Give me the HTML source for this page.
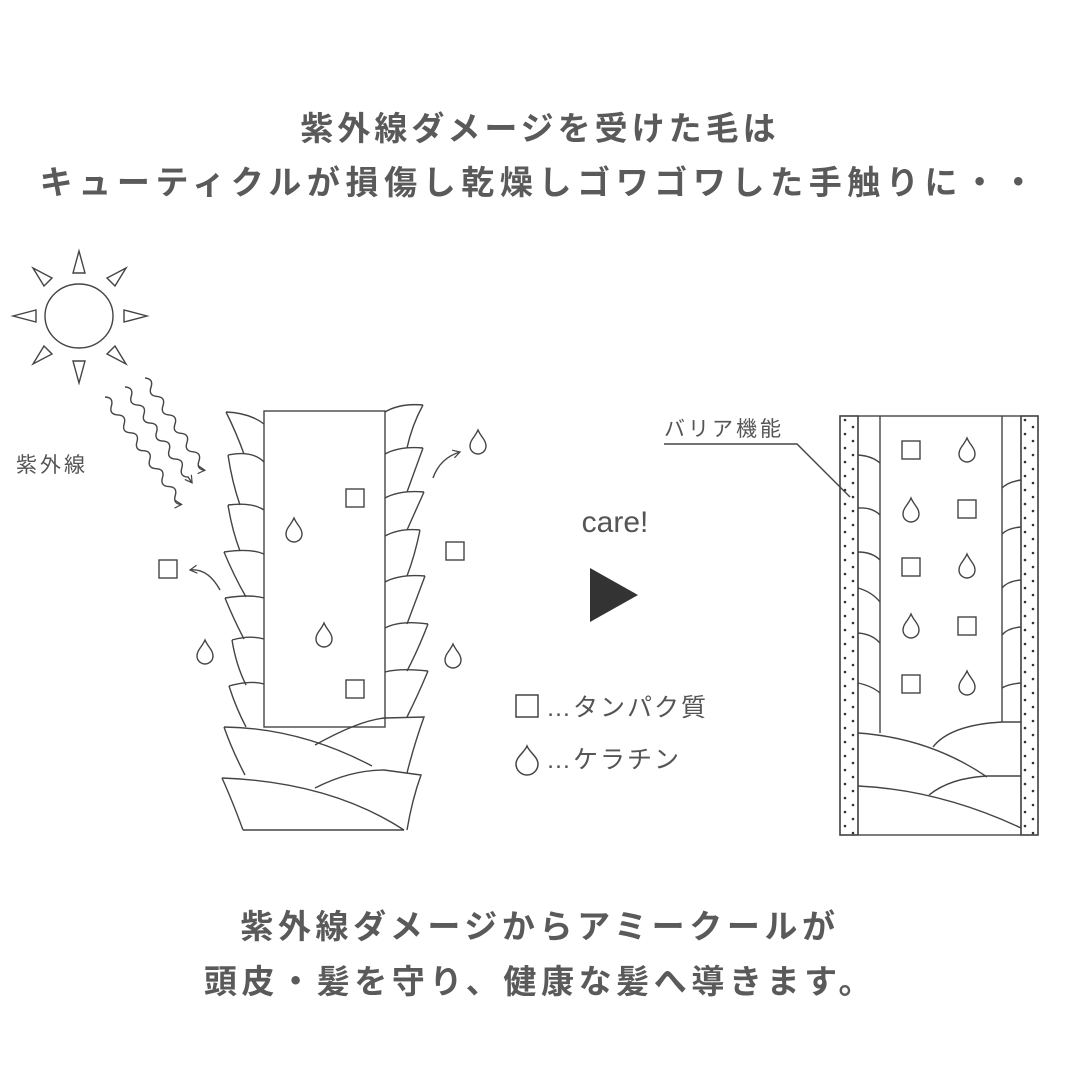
<!DOCTYPE html>
<html><head><meta charset="utf-8"><style>
html,body{margin:0;padding:0;background:#fff}
svg{display:block}
.t{font-family:"Liberation Sans","Noto Sans CJK JP",sans-serif;font-weight:bold;fill:#5a5a5a;font-size:33px;letter-spacing:4px}
.l{font-family:"Liberation Sans","Noto Sans CJK JP",sans-serif;fill:#555;}
</style></head><body>
<svg width="1080" height="1080" viewBox="0 0 1080 1080" xmlns="http://www.w3.org/2000/svg">
<defs>
<pattern id="dots" x="840" y="416" width="18" height="14" patternUnits="userSpaceOnUse">
<circle cx="5" cy="4" r="1.3" fill="#333"/><circle cx="13" cy="11" r="1.3" fill="#333"/>
</pattern>
<g id="drop"><path d="M0,-13 C3,-6 8,-3 8,3 A8,8 0 0 1 -8,3 C-8,-3 -3,-6 0,-13 Z" fill="#fff" stroke="#444" stroke-width="1.4"/></g>
<g id="sq"><rect x="-9" y="-9" width="18" height="18" fill="#fff" stroke="#444" stroke-width="1.4"/></g>
<marker id="ah" markerWidth="10" markerHeight="10" refX="8" refY="5" orient="auto" markerUnits="userSpaceOnUse"><path d="M1,1 L8,5 L1,9" fill="none" stroke="#444" stroke-width="1.2"/></marker>
</defs>
<text class="t" x="540" y="140" text-anchor="middle">紫外線ダメージを受けた毛は</text>
<text class="t" x="540" y="194" text-anchor="middle" style="letter-spacing:5.6px">キューティクルが損傷し乾燥しゴワゴワした手触りに・・</text>
<text class="t" x="540" y="938" text-anchor="middle" style="letter-spacing:4.6px">紫外線ダメージからアミークールが</text>
<text class="t" x="540" y="993" text-anchor="middle" style="letter-spacing:4.6px">頭皮・髪を守り、健康な髪へ導きます。</text>

<g fill="none" stroke="#444" stroke-width="1.4">
<!-- sun -->
<ellipse cx="79" cy="316" rx="34" ry="32"/>
<path d="M79,251 L73,273 L85,273 Z"/>
<path d="M79,383 L73,361 L85,361 Z"/>
<path d="M13,316 L36,310 L36,322 Z"/>
<path d="M147,316 L124,310 L124,322 Z"/>
<path d="M33,268 L52,278 L44,286 Z"/>
<path d="M126,268 L107,278 L115,286 Z"/>
<path d="M33,364 L44,346 L52,354 Z"/>
<path d="M126,364 L115,346 L107,354 Z"/>
<!-- waves -->
<g transform="translate(145,378) rotate(57)"><path d="M0,0 q5.5,-7 11,0 t11,0 t11,0 t11,0 t11,0 t11,0 t11,0 t11,0 t11,0 t11,0" marker-end="url(#ah)"/></g>
<g transform="translate(125,387) rotate(55)"><path d="M0,0 q5.5,-7 11,0 t11,0 t11,0 t11,0 t11,0 t11,0 t11,0 t11,0 t11,0 t11,0 l7,0" marker-end="url(#ah)"/></g>
<g transform="translate(105,397) rotate(54.5)"><path d="M0,0 q5.5,-7 11,0 t11,0 t11,0 t11,0 t11,0 t11,0 t11,0 t11,0 t11,0 t11,0 t11,0 t11,0" marker-end="url(#ah)"/></g>
</g>
<text class="l" x="16" y="472" font-size="21" letter-spacing="3">紫外線</text>

<!-- left hair -->
<g fill="none" stroke="#444" stroke-width="1.4">
<rect x="264" y="411" width="121" height="316"/>
<path d="M226,412 Q250,413 264,424 M226,412 Q236,432 244,454"/>
<path d="M228,455 Q252,450 264,462 M228,455 Q232,482 240,505"/>
<path d="M228,505 Q252,502 264,510 M228,505 Q232,530 240,551"/>
<path d="M224,552 Q250,548 264,554 M224,552 Q234,576 246,597"/>
<path d="M225,598 Q250,594 264,598 M225,598 Q234,620 244,639"/>
<path d="M232,640 Q250,635 264,639 M232,640 Q236,665 246,685"/>
<path d="M229,686 Q250,680 264,684 M229,686 Q236,708 246,727"/>
<path d="M423,405 Q400,403 385,412 M423,405 Q412,425 407,448"/>
<path d="M423,448 Q400,446 385,454 M423,448 Q415,470 407,492"/>
<path d="M424,492 Q400,490 385,498 M424,492 Q415,512 407,530"/>
<path d="M420,530 Q400,528 385,536 M420,530 Q415,555 407,576"/>
<path d="M425,576 Q400,574 385,582 M425,576 Q416,600 407,624"/>
<path d="M428,624 Q400,620 385,628 M428,624 Q418,650 407,671"/>
<path d="M428,671 Q400,668 385,672 M428,671 Q418,695 407,717"/>
<!-- bottom hills -->
<path d="M224,727 Q232,750 245,775"/>
<path d="M224,727 Q300,728 372,766"/>
<path d="M315,745 Q360,720 385,718 L424,717 Q414,745 407,773"/>
<path d="M222,778 Q232,800 243,830"/>
<path d="M222,778 Q330,782 404,830"/>
<path d="M315,788 Q350,770 384,770 L421,775 Q412,800 407,830"/>
<path d="M243,830 L404,830"/>
<path d="M220,590 Q208,568 190,570" marker-end="url(#ah)"/>
<path d="M433,478 Q440,458 460,452" marker-end="url(#ah)"/>
</g>
<use href="#sq" x="355" y="498"/>
<use href="#sq" x="355" y="689"/>
<use href="#sq" x="168" y="569"/>
<use href="#sq" x="455" y="551"/>
<use href="#drop" x="294" y="531"/>
<use href="#drop" x="324" y="636"/>
<use href="#drop" x="205" y="653"/>
<use href="#drop" x="478" y="443"/>
<use href="#drop" x="453" y="657"/>

<!-- middle -->
<text class="l" x="615" y="532" font-size="30" text-anchor="middle" fill="#333">care!</text>
<path d="M590,568 L638,595 L590,622 Z" fill="#333"/>
<rect x="516" y="695" width="22" height="22" fill="none" stroke="#444" stroke-width="1.5"/>
<text class="l" x="546" y="716" font-size="25" letter-spacing="2">…タンパク質</text>
<path d="M527,746 C530,753 538,757 538,764 A11,11 0 0 1 516,764 C516,757 524,753 527,746 Z" fill="none" stroke="#444" stroke-width="1.5"/>
<text class="l" x="546" y="768" font-size="25" letter-spacing="2">…ケラチン</text>

<!-- right panel -->
<text class="l" x="664" y="436" font-size="21" letter-spacing="3">バリア機能</text>
<g fill="none" stroke="#444" stroke-width="1.4">
<path d="M664,444 L797,444 L850,497"/>
<rect x="840" y="416" width="18" height="419" fill="url(#dots)"/>
<rect x="1021" y="416" width="17" height="419" fill="url(#dots)"/>
<rect x="840" y="416" width="198" height="419"/>
<line x1="858" y1="416" x2="858" y2="835"/>
<line x1="1021" y1="416" x2="1021" y2="835"/>
<line x1="880" y1="416" x2="880" y2="733"/>
<line x1="1002" y1="416" x2="1002" y2="722"/>
<path d="M858,455 Q872,456 880,463"/>
<path d="M858,508 Q872,507 880,515"/>
<path d="M858,552 Q872,552 880,560"/>
<path d="M858,588 Q872,592 880,602"/>
<path d="M858,633 Q872,634 880,643"/>
<path d="M858,683 Q872,686 880,693"/>
<path d="M1002,488 Q1008,482 1021,480"/>
<path d="M1002,534 Q1008,528 1021,527"/>
<path d="M1002,588 Q1008,581 1021,580"/>
<path d="M1002,635 Q1008,628 1021,627"/>
<path d="M1002,688 Q1008,684 1021,683"/>
<path d="M858,733 Q930,738 987,777"/>
<path d="M933,747 Q950,725 1002,722 L1021,722"/>
<path d="M858,786 Q940,790 1021,828"/>
<path d="M929,795 Q950,778 987,776 L1021,776"/>
</g>
<use href="#sq" x="911" y="450"/><use href="#drop" x="967" y="451"/>
<use href="#drop" x="911" y="511"/><use href="#sq" x="967" y="509"/>
<use href="#sq" x="911" y="567"/><use href="#drop" x="967" y="567"/>
<use href="#drop" x="911" y="627"/><use href="#sq" x="967" y="626"/>
<use href="#sq" x="911" y="684"/><use href="#drop" x="967" y="684"/>
</svg>
</body></html>
